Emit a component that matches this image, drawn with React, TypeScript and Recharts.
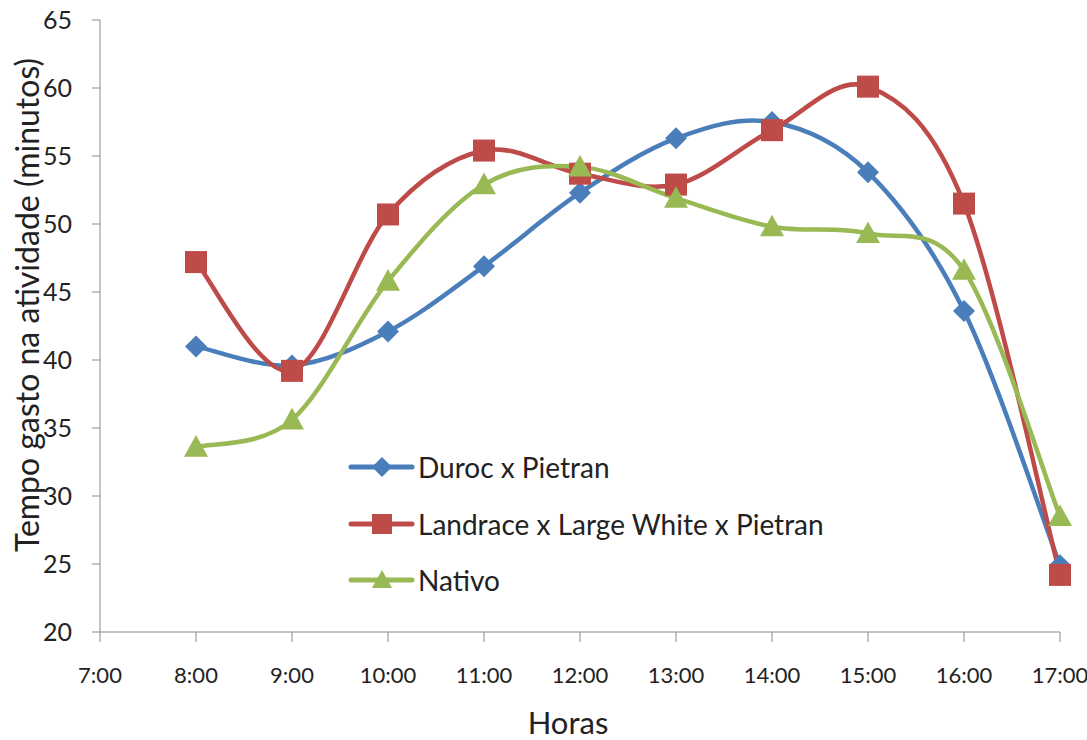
import React from 'react';
import { LineChart, Line, XAxis, YAxis } from 'recharts';

const hours = [8, 9, 10, 11, 12, 13, 14, 15, 16, 17];
const duroc = [41.0, 39.6, 42.1, 46.9, 52.3, 56.3, 57.5, 53.8, 43.6, 24.9];
const landrace = [47.2, 39.2, 50.7, 55.4, 53.7, 52.9, 56.9, 60.1, 51.5, 24.2];
const nativo = [33.6, 35.6, 45.8, 52.9, 54.2, 51.9, 49.8, 49.3, 46.6, 28.5];
const xTicks = [7, 8, 9, 10, 11, 12, 13, 14, 15, 16, 17];
const yTicks = [20, 25, 30, 35, 40, 45, 50, 55, 60, 65];

const data = hours.map((h, i) => ({
  hora: h,
  duroc: duroc[i],
  landrace: landrace[i],
  nativo: nativo[i],
}));

const FONT = 'Lato, "Open Sans", sans-serif';
const TEXT = '#222';
const BLUE = '#4A7EBB';
const RED = '#BE4B48';
const GREEN = '#98B954';

// Excel-like smoothed line (Catmull-Rom as cubic bezier)
function smoothCurve(context: any) {
  let pts: number[][] = [];
  return {
    areaStart() {},
    areaEnd() {},
    lineStart() {
      pts = [];
    },
    point(x: number, y: number) {
      pts.push([+x, +y]);
    },
    lineEnd() {
      if (!pts.length) return;
      context.moveTo(pts[0][0], pts[0][1]);
      for (let i = 0; i < pts.length - 1; i++) {
        const p0 = pts[i - 1] || pts[i];
        const p1 = pts[i];
        const p2 = pts[i + 1];
        const p3 = pts[i + 2] || pts[i + 1];
        context.bezierCurveTo(
          p1[0] + (p2[0] - p0[0]) / 6,
          p1[1] + (p2[1] - p0[1]) / 6,
          p2[0] - (p3[0] - p1[0]) / 6,
          p2[1] - (p3[1] - p1[1]) / 6,
          p2[0],
          p2[1]
        );
      }
    },
  };
}

function Diamond({ cx, cy, fill, r = 11 }: any) {
  return <polygon points={`${cx},${cy - r} ${cx + r},${cy} ${cx},${cy + r} ${cx - r},${cy}`} fill={fill} />;
}
function Square({ cx, cy, fill, r = 11 }: any) {
  return <rect x={cx - r} y={cy - r} width={r * 2} height={r * 2} fill={fill} />;
}
function Triangle({ cx, cy, fill, r = 12 }: any) {
  return <polygon points={`${cx},${cy - r} ${cx + r},${cy + r * 0.8} ${cx - r},${cy + r * 0.8}`} fill={fill} />;
}

const series = [
  { key: 'duroc', name: 'Duroc x Pietran', color: BLUE, Marker: Diamond },
  { key: 'landrace', name: 'Landrace x Large White x Pietran', color: RED, Marker: Square },
  { key: 'nativo', name: 'Nativo', color: GREEN, Marker: Triangle },
];

function LegendBox() {
  return (
    <div
      style={{
        position: 'absolute',
        left: 348,
        top: 439,
        fontFamily: FONT,
        fontSize: 28,
        color: TEXT,
      }}
    >
      {series.map((s) => (
        <div key={s.key} style={{ display: 'flex', alignItems: 'center', height: 56.5, whiteSpace: 'nowrap' }}>
          <svg width={70} height={30}>
            <line x1={3} y1={15} x2={64} y2={15} stroke={s.color} strokeWidth={5} strokeLinecap="round" />
            <s.Marker cx={34} cy={15} fill={s.color} r={10} />
          </svg>
          <span>{s.name}</span>
        </div>
      ))}
    </div>
  );
}

export default function App() {
  return (
    <div style={{ position: 'absolute', left: 0, top: 0, width: 1087, height: 740, background: '#fff' }}>
      <LineChart width={1087} height={740} data={data} margin={{ top: 20, right: 27, left: 0, bottom: 0 }}>
        <XAxis
          dataKey="hora"
          type="number"
          domain={[7, 17]}
          ticks={xTicks}
          tickFormatter={(h) => `${h}:00`}
          height={108}
          stroke="#898989"
          tickSize={10}
          tickMargin={25}
          tick={{ fill: TEXT, fontSize: 22, fontFamily: FONT }}
          label={{
            content: () => (
              <text x={568} y={722} textAnchor="middle" dominantBaseline="central" fill={TEXT} fontSize={31} fontFamily={FONT}>
                Horas
              </text>
            ),
          }}
        />
        <YAxis
          type="number"
          domain={[20, 65]}
          ticks={yTicks}
          width={100}
          stroke="#898989"
          tickSize={8}
          tickMargin={20}
          tick={{ fill: TEXT, fontSize: 25, fontFamily: FONT }}
          label={{
            content: () => (
              <text
                x={26}
                y={305}
                transform="rotate(-90 26 305)"
                textAnchor="middle"
                dominantBaseline="central"
                fill={TEXT}
                fontSize={32}
                fontFamily={FONT}
              >
                Tempo gasto na atividade (minutos)
              </text>
            ),
          }}
        />
        {series.map((s) => (
          <Line
            key={s.key}
            dataKey={s.key}
            name={s.name}
            type={smoothCurve as any}
            stroke={s.color}
            strokeWidth={4.5}
            isAnimationActive={false}
            dot={(p: any) => <s.Marker key={`${s.key}-${p.index}`} cx={p.cx} cy={p.cy} fill={s.color} />}
            activeDot={false}
          />
        ))}
      </LineChart>
      <LegendBox />
    </div>
  );
}
